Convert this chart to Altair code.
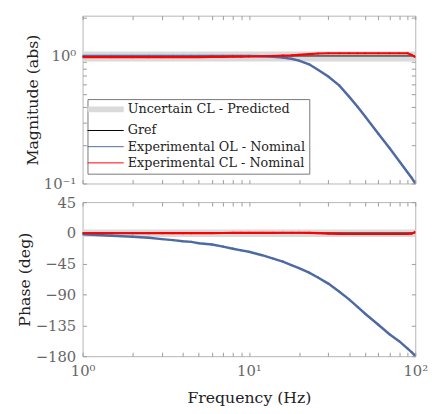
import altair as alt
import pandas as pd

# ---------------- data ----------------
freq = [1, 1.5, 2, 2.5, 3, 3.5, 4, 4.5, 5, 6, 7, 8, 9, 10, 12, 14, 16, 18, 20,
        23, 26, 30, 35, 40, 45, 50, 60, 70, 80, 90, 95, 100]

ol_mag = [1.0, 1.0, 1.0, 1.0, 1.0, 1.0, 1.0, 1.0, 1.0, 1.0, 1.0, 1.0, 1.0, 1.0,
          0.995, 0.985, 0.97, 0.95, 0.92, 0.86, 0.78, 0.69, 0.585, 0.48, 0.40,
          0.335, 0.245, 0.19, 0.15, 0.122, 0.111, 0.10]
cl_mag = [0.98, 0.978, 0.978, 0.978, 0.979, 0.979, 0.98, 0.98, 0.98, 0.983,
          0.985, 0.987, 0.988, 0.99, 0.995, 1.0, 1.005, 1.01, 1.02, 1.035,
          1.045, 1.05, 1.05, 1.05, 1.05, 1.05, 1.05, 1.05, 1.05, 1.05, 1.02, 0.98]
band_mag = [0.99, 0.99, 0.99, 0.99, 0.99, 0.99, 0.99, 0.99, 0.99, 0.99, 0.99,
            0.99, 0.99, 0.99, 0.99, 0.99, 0.99, 0.99, 0.99, 0.99, 0.99, 0.99,
            0.99, 0.99, 0.99, 0.99, 0.99, 0.99, 0.99, 0.99, 0.99, 0.99]

ol_phase = [-2, -4, -5.5, -7, -9, -10.5, -12, -13, -15, -17, -20, -23, -25.5,
            -27.5, -32.5, -37.5, -42, -47, -51.5, -58, -65, -74, -86, -97, -108,
            -118, -134, -148, -158, -169, -174, -179.5]
cl_phase = [-0.4, -0.4, -0.4, -0.4, -0.3, -0.3, -0.3, -0.3, -0.2, -0.2, -0.1,
            0, 0, 0, 0.1, 0.2, 0.3, 0.3, 0.3, 0.2, -0.3, -1.0, -1.4, -1.5, -1.5,
            -1.5, -1.5, -1.5, -1.5, -1.4, -1.0, 1.5]
band_phase = [-0.5, -0.5, -0.5, -0.5, -0.5, -0.5, -0.5, -0.5, -0.5, -0.5, -0.5,
              -0.5, -0.5, -0.5, -0.5, -0.5, -0.5, -0.5, -0.5, -0.5, -0.5, -0.5,
              -0.5, -0.5, -0.5, -0.5, -0.5, -0.5, -0.5, -0.5, -0.5, -0.5]

gref_freq = [1, 100]
gref_mag = [1.0, 1.0]
gref_phase = [0.0, 0.0]

S_BAND = "Uncertain CL - Predicted"
S_REF = "Gref"
S_OL = "Experimental OL - Nominal"
S_CL = "Experimental CL - Nominal"
series_names = [S_BAND, S_REF, S_OL, S_CL]
series_colors = ["#dadada", "#000000", "#4e6aa3", "#ff0000"]

x_major = [1, 10, 100]
x_minor = [1, 2, 3, 4, 5, 6, 7, 8, 9, 10, 20, 30, 40, 50, 60, 70, 80, 90, 100]
mag_major = [0.1, 1]
mag_minor = [0.1, 0.2, 0.3, 0.4, 0.5, 0.6, 0.7, 0.8, 0.9, 1, 2]
phase_ticks = [45, 0, -45, -90, -135, -180]

# ---------------- tables ----------------
def table(fs, vals, name):
    return pd.DataFrame({"f": fs, "v": vals, "s": [name] * len(fs)})

mag_band = table(freq, band_mag, S_BAND)
mag_ref = table(gref_freq, gref_mag, S_REF)
mag_ol = table(freq, ol_mag, S_OL)
mag_cl = table(freq, cl_mag, S_CL)
ph_band = table(freq, band_phase, S_BAND)
ph_ref = table(gref_freq, gref_phase, S_REF)
ph_ol = table(freq, ol_phase, S_OL)
ph_cl = table(freq, cl_phase, S_CL)

FONT = "DejaVu Serif"
LABEL_COLOR = "#666666"
TITLE_COLOR = "#222222"
TICK_COLOR = "#9a9a9a"
W = 339

xscale = alt.Scale(type="log", domain=[1, 100], nice=False)
magscale = alt.Scale(type="log", domain=[0.1, 2.07], nice=False)
phscale = alt.Scale(domain=[-180, 45], nice=False, zero=False)


def label_axis(orient, values, expr, title, title_padding, label_padding=7):
    kw = dict(orient=orient, values=values, ticks=False, domain=False, grid=False,
              labelFont=FONT, labelFontSize=15, labelColor=LABEL_COLOR,
              labelPadding=label_padding, labelFlush=False, labelOverlap=False,
              labelBound=False)
    if expr:
        kw["labelExpr"] = expr
    if title:
        kw.update(title=title, titleFont=FONT, titleFontSize=16,
                  titleFontWeight="normal", titleColor=TITLE_COLOR,
                  titlePadding=title_padding)
    else:
        kw["title"] = None
    return alt.Axis(**kw)


def tick_axis(orient, values):
    return alt.Axis(orient=orient, values=values, labels=False, domain=False,
                    grid=False, ticks=True, tickSize=4, offset=-4,
                    tickColor=TICK_COLOR, tickWidth=1, title=None)


def color_enc(legend):
    return alt.Color("s:N", scale=alt.Scale(domain=series_names, range=series_colors),
                     legend=legend)


legend = alt.Legend(
    title=None, orient="none", legendX=5, legendY=85,
    symbolType="M-4,0H4", symbolSize=85,
    symbolStrokeWidth={"expr": "datum.value === 'Uncertain CL - Predicted' ? 6 : 1"},
    labelFont=FONT, labelFontSize=13, labelColor=TITLE_COLOR, labelLimit=300,
    strokeColor="#777777", fillColor="white", padding=4, rowPadding=2.5,
    labelOffset=16, symbolOffset=8,
)

X_EXPR = "datum.value < 3 ? '10⁰' : datum.value < 30 ? '10¹' : '10²'"
MAG_EXPR = "datum.value > 0.5 ? '10⁰' : '10⁻¹'"

# ---------------- magnitude panel ----------------
m_band = alt.Chart(mag_band).mark_line(strokeWidth=10, clip=True).encode(
    x=alt.X("f:Q", scale=xscale, axis=tick_axis("bottom", x_minor)),
    y=alt.Y("v:Q", scale=magscale,
            axis=label_axis("left", mag_major, MAG_EXPR, "Magnitude (abs)", 3)),
    color=color_enc(legend),
)
m_ref = alt.Chart(mag_ref).mark_line(strokeWidth=1, clip=True).encode(
    x=alt.X("f:Q", scale=xscale, axis=tick_axis("top", x_minor)),
    y=alt.Y("v:Q", scale=magscale, axis=tick_axis("left", mag_minor)),
    color=color_enc(legend),
)
m_ol = alt.Chart(mag_ol).mark_line(strokeWidth=2.5, clip=True,
                                   point=alt.OverlayMarkDef(filled=True, size=5)).encode(
    x=alt.X("f:Q", scale=xscale, axis=None),
    y=alt.Y("v:Q", scale=magscale, axis=tick_axis("right", mag_minor)),
    color=color_enc(legend),
)
m_cl = alt.Chart(mag_cl).mark_line(strokeWidth=2.2, clip=True,
                                   point=alt.OverlayMarkDef(filled=True, size=5)).encode(
    x=alt.X("f:Q", scale=xscale, axis=None),
    y=alt.Y("v:Q", scale=magscale, axis=None),
    color=color_enc(legend),
)
top = alt.layer(m_band, m_ref, m_ol, m_cl).resolve_axis(
    x="independent", y="independent").properties(width=W, height=171)

# ---------------- phase panel ----------------
p_band = alt.Chart(ph_band).mark_line(strokeWidth=7.5, clip=True).encode(
    x=alt.X("f:Q", scale=xscale,
            axis=label_axis("bottom", x_major, X_EXPR, "Frequency (Hz)", 11, 8)),
    y=alt.Y("v:Q", scale=phscale,
            axis=label_axis("left", phase_ticks, None, "Phase (deg)", 3)),
    color=color_enc(None),
)
p_ref = alt.Chart(ph_ref).mark_line(strokeWidth=1, clip=True).encode(
    x=alt.X("f:Q", scale=xscale, axis=tick_axis("bottom", x_minor)),
    y=alt.Y("v:Q", scale=phscale, axis=tick_axis("left", phase_ticks)),
    color=color_enc(None),
)
p_ol = alt.Chart(ph_ol).mark_line(strokeWidth=2.5, clip=True,
                                  point=alt.OverlayMarkDef(filled=True, size=5)).encode(
    x=alt.X("f:Q", scale=xscale, axis=tick_axis("top", x_minor)),
    y=alt.Y("v:Q", scale=phscale, axis=tick_axis("right", phase_ticks)),
    color=color_enc(None),
)
p_cl = alt.Chart(ph_cl).mark_line(strokeWidth=2.2, clip=True,
                                  point=alt.OverlayMarkDef(filled=True, size=5)).encode(
    x=alt.X("f:Q", scale=xscale, axis=None),
    y=alt.Y("v:Q", scale=phscale, axis=None),
    color=color_enc(None),
)
bottom = alt.layer(p_band, p_ref, p_ol, p_cl).resolve_axis(
    x="independent", y="independent").properties(width=W, height=157)

chart = alt.vconcat(top, bottom, spacing=19, bounds="flush").resolve_legend(
    color="independent"
).properties(
    padding={"left": 8, "top": 3, "right": 0, "bottom": 0},
    background="white",
).configure_view(stroke="#b5b5b5", strokeWidth=1)

chart.save("out.html", embed_options={"renderer": "svg", "actions": False})
